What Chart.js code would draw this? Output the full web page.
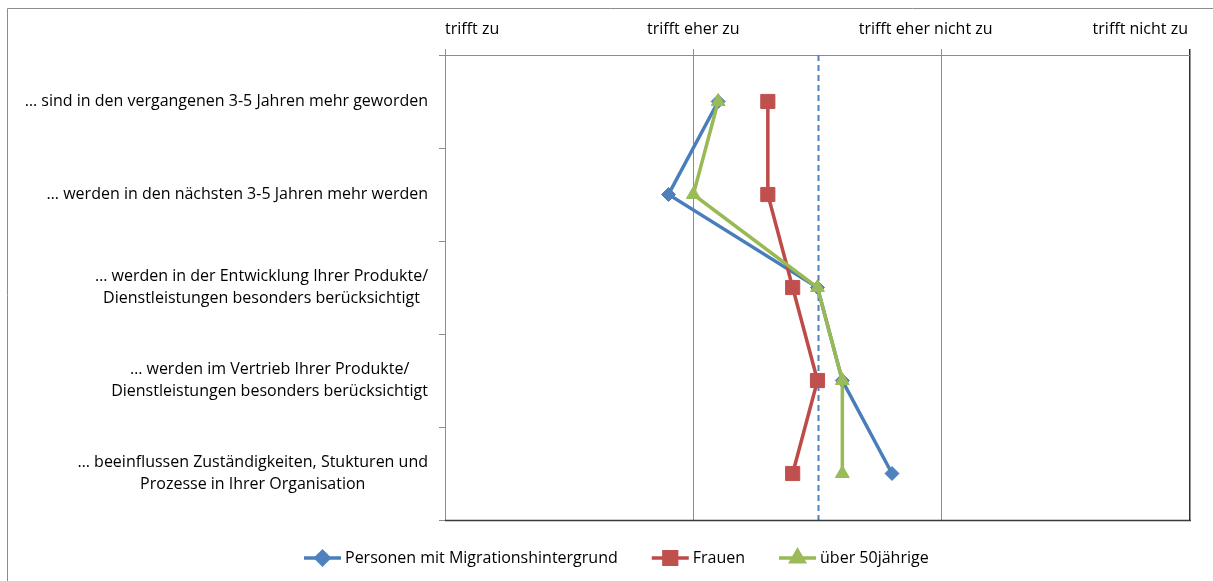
<!DOCTYPE html>
<html>
<head>
<meta charset="utf-8">
<script src="https://cdn.jsdelivr.net/npm/chart.js@4.4.1/dist/chart.umd.min.js"></script>
<style>
  html, body { margin: 0; padding: 0; background: #ffffff; }
  #wrap { width: 1213px; height: 581px; position: relative; }
</style>
</head>
<body>
<div id="wrap"><canvas id="c" width="1213" height="581"></canvas></div>
<script>
// Statements (y categories), split into their display lines
const categories = [
  ["… sind in den vergangenen 3-5 Jahren mehr geworden"],
  ["… werden in den nächsten 3-5 Jahren mehr werden"],
  ["… werden in der Entwicklung Ihrer Produkte/", "Dienstleistungen besonders berücksichtigt"],
  ["… werden im Vertrieb Ihrer Produkte/", "Dienstleistungen besonders berücksichtigt"],
  ["… beeinflussen Zuständigkeiten, Stukturen und", "Prozesse in Ihrer Organisation"]
];

// Answer scale 1..4
const scaleLabels = ["trifft zu", "trifft eher zu", "trifft eher nicht zu", "trifft nicht zu"];
const scaleValues = [1, 2, 3, 4];

// Mean ratings per group
const migration = [2.1, 1.9, 2.5, 2.6, 2.8];
const frauen    = [2.3, 2.3, 2.4, 2.5, 2.4];
const ueber50   = [2.1, 2.0, 2.5, 2.6, 2.6];

// Scale midpoint shown as a dashed line
const midpoint = 2.5;

const FONT = "'Open Sans', 'Noto Sans', sans-serif";
const TEXT_FONT = "16px " + FONT;
const LINE_WIDTH = 3.5;

// Outer frame of the chart
const framePlugin = {
  id: 'frame',
  beforeDraw(chart) {
    const ctx = chart.ctx;
    ctx.save();
    ctx.strokeStyle = '#8c8c8c';
    ctx.lineWidth = 1;
    ctx.beginPath();
    ctx.moveTo(7.5, chart.height + 2);
    ctx.lineTo(7.5, 8.5);
    ctx.lineTo(chart.width + 2, 8.5);
    ctx.stroke();
    ctx.restore();
  }
};

// Dashed midpoint line, behind the series
const midlinePlugin = {
  id: 'midline',
  beforeDatasetsDraw(chart) {
    const { ctx, chartArea } = chart;
    const x = Math.round(chart.scales.x.getPixelForValue(midpoint)) + 0.5;
    ctx.save();
    ctx.strokeStyle = '#4F81BD';
    ctx.lineWidth = 2;
    ctx.setLineDash([6, 4]);
    ctx.beginPath();
    ctx.moveTo(x, chartArea.top);
    ctx.lineTo(x, chartArea.bottom);
    ctx.stroke();
    ctx.restore();
  }
};

// Bottom plot border and the text around the plot
const axisTextPlugin = {
  id: 'axisText',
  afterDraw(chart) {
    const { ctx, chartArea } = chart;
    const xs = chart.scales.x;
    const ys = chart.scales.y;
    ctx.save();
    // bottom border
    ctx.strokeStyle = '#3a3a3a';
    ctx.lineWidth = 1.5;
    ctx.beginPath();
    ctx.moveTo(chartArea.left, chartArea.bottom + 0.5);
    ctx.lineTo(chartArea.right + 1, chartArea.bottom + 0.5);
    ctx.stroke();

    ctx.fillStyle = '#000000';
    ctx.font = TEXT_FONT;
    ctx.textBaseline = 'middle';

    // scale labels: first flush left, last flush right, others centred
    scaleLabels.forEach((txt, i) => {
      let x = xs.getPixelForValue(scaleValues[i]);
      if (i === 0) { ctx.textAlign = 'left'; }
      else if (i === scaleLabels.length - 1) { ctx.textAlign = 'right'; x -= 2; }
      else { ctx.textAlign = 'center'; if (i === 2) x -= 16; }
      ctx.fillText(txt, x, 29);
    });

    // category labels: block right-aligned to the axis, lines centred in the block
    const lineH = 22;
    const rightEdge = chartArea.left - 17;
    categories.forEach((lines, i) => {
      const y = ys.getPixelForValue(i);
      const w = Math.max(...lines.map(l => ctx.measureText(l).width));
      const cx = rightEdge - w / 2;
      ctx.textAlign = 'center';
      lines.forEach((l, j) => {
        ctx.fillText(l, cx, y + (j - (lines.length - 1) / 2) * lineH);
      });
    });
    ctx.restore();
  }
};

// Legend: line segment with marker, then series name
const lineLegendPlugin = {
  id: 'lineLegend',
  afterDraw(chart) {
    const ctx = chart.ctx;
    const sets = chart.data.datasets.slice().sort((a, b) => a.legendIndex - b.legendIndex);
    ctx.save();
    ctx.font = TEXT_FONT;
    ctx.textBaseline = 'middle';
    ctx.textAlign = 'left';
    const segW = 37, textGap = 4, itemGap = 34;
    const widths = sets.map(d => segW + textGap + ctx.measureText(d.label).width);
    const total = widths.reduce((a, b) => a + b, 0) + itemGap * (sets.length - 1);
    let x = Math.round(616 - total / 2);
    const y = 558;
    sets.forEach((d, i) => {
      ctx.strokeStyle = d.borderColor;
      ctx.lineWidth = LINE_WIDTH;
      ctx.beginPath();
      ctx.moveTo(x, y);
      ctx.lineTo(x + segW, y);
      ctx.stroke();
      ctx.fillStyle = d.pointBackgroundColor;
      ctx.strokeStyle = d.pointBackgroundColor;
      Chart.helpers.drawPoint(ctx, {
        pointStyle: d.pointStyle, radius: d.legendRadius, rotation: 0, borderWidth: 1
      }, x + segW / 2, y);
      ctx.fillStyle = '#000000';
      ctx.fillText(d.label, x + segW + textGap, y);
      x += widths[i] + itemGap;
    });
    ctx.restore();
  }
};

new Chart(document.getElementById('c'), {
  type: 'line',
  data: {
    labels: categories,
    datasets: [
      {
        label: 'Personen mit Migrationshintergrund',
        data: migration,
        borderColor: '#4A7EBB',
        pointBackgroundColor: '#4F81BD',
        pointBorderColor: '#4F81BD',
        pointStyle: 'rectRot',
        pointRadius: 7,
        legendRadius: 6.5,
        legendIndex: 0,
        order: 3
      },
      {
        label: 'Frauen',
        data: frauen,
        borderColor: '#BE4B48',
        pointBackgroundColor: '#C0504D',
        pointBorderColor: '#C0504D',
        pointStyle: 'rect',
        pointRadius: 10,
        legendRadius: 9,
        legendIndex: 1,
        order: 2
      },
      {
        label: 'über 50jährige',
        data: ueber50,
        borderColor: '#98B954',
        pointBackgroundColor: '#9BBB59',
        pointBorderColor: '#9BBB59',
        pointStyle: 'triangle',
        pointRadius: 8,
        legendRadius: 7.5,
        legendIndex: 2,
        order: 1
      }
    ]
  },
  options: {
    indexAxis: 'y',
    responsive: false,
    devicePixelRatio: 1,
    animation: false,
    events: [],
    layout: { padding: { left: 0, right: 23, top: 0, bottom: 61 } },
    elements: {
      line: { borderWidth: LINE_WIDTH, tension: 0, fill: false },
      point: { borderWidth: 1, hoverRadius: 7 }
    },
    plugins: {
      legend: { display: false },
      tooltip: { enabled: false }
    },
    scales: {
      x: {
        type: 'linear',
        position: 'top',
        min: 1,
        max: 4,
        ticks: { stepSize: 1, display: false },
        grid: {
          color: (c) => (c.tick && c.tick.value === 4) ? '#303030' : '#8c8c8c',
          lineWidth: (c) => (c.tick && c.tick.value === 4) ? 1.5 : 1,
          drawTicks: true,
          tickLength: 6
        },
        border: { color: '#8c8c8c', width: 1 },
        afterFit: (s) => { s.height = 55; }
      },
      y: {
        type: 'category',
        offset: true,
        ticks: { display: false },
        grid: {
          offset: true,
          drawOnChartArea: false,
          drawTicks: true,
          tickLength: 6,
          color: '#8c8c8c'
        },
        border: { color: '#8c8c8c', width: 1 },
        afterFit: (s) => { s.width = 445; }
      }
    }
  },
  plugins: [framePlugin, midlinePlugin, axisTextPlugin, lineLegendPlugin]
});
</script>
</body>
</html>
